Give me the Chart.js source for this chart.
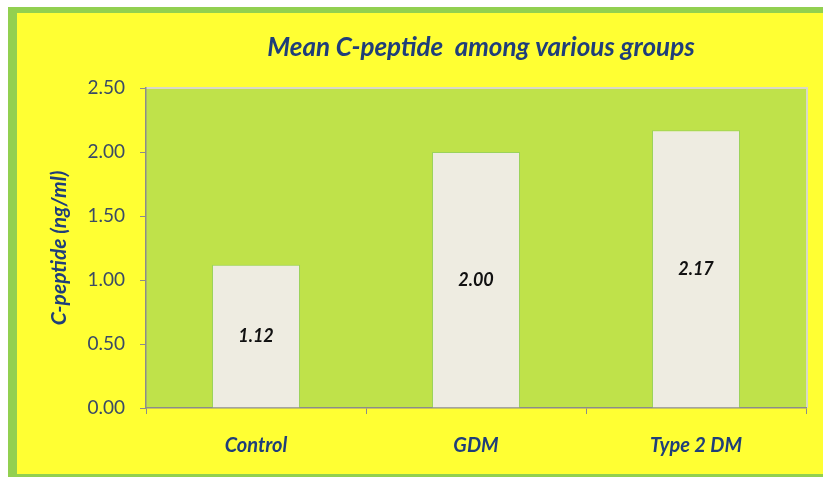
<!DOCTYPE html>
<html>
<head>
<meta charset="utf-8">
<script src="https://cdn.jsdelivr.net/npm/chart.js@4.4.0/dist/chart.umd.min.js"></script>
<style>
html,body{margin:0;padding:0;background:#ffffff;}
#wrap{width:823px;height:477px;position:relative;}
</style>
</head>
<body>
<div id="wrap"><canvas id="c" width="823" height="477"></canvas></div>
<script>
const categories = ["Control", "GDM", "Type 2 DM"];
const meanCPeptide = [1.12, 2.00, 2.17];
const valueLabels = ["1.12", "2.00", "2.17"];
const yTickLabels = ["0.00", "0.50", "1.00", "1.50", "2.00", "2.50"];
const chartTitle = "Mean C-peptide  among various groups";
const yAxisTitle = "C-peptide (ng/ml)";

const FONT = "Lato, 'Open Sans', 'DejaVu Sans', sans-serif";

const framePlugin = {
  id: 'frame',
  beforeDraw(chart) {
    const ctx = chart.ctx;
    const w = chart.width, h = chart.height;
    ctx.save();
    ctx.fillStyle = '#ffffff';
    ctx.fillRect(0, 0, w, h);
    ctx.fillStyle = '#92D050';
    ctx.fillRect(8, 7, w - 8, h - 7);
    ctx.fillStyle = '#FFFF33';
    ctx.fillRect(17, 13, w - 17, h - 13 - 3);
    const a = chart.chartArea;
    ctx.fillStyle = '#BFE24A';
    ctx.fillRect(a.left, a.top, a.right - a.left, a.bottom - a.top);
    ctx.strokeStyle = '#D9D9C6';
    ctx.lineWidth = 2;
    ctx.beginPath();
    ctx.moveTo(a.left, a.top);
    ctx.lineTo(a.right + 1, a.top);
    ctx.lineTo(a.right + 1, a.bottom);
    ctx.stroke();
    // chart title, centred over the plot area
    ctx.fillStyle = '#1F3E7A';
    ctx.font = "italic bold 26px " + FONT;
    ctx.textAlign = 'center';
    ctx.textBaseline = 'middle';
    ctx.fillText(chartTitle, (a.left + a.right) / 2 + 5, a.top - 40);
    ctx.restore();
  }
};

const labelPlugin = {
  id: 'barLabels',
  afterDatasetsDraw(chart) {
    const ctx = chart.ctx;
    const meta = chart.getDatasetMeta(0);
    ctx.save();
    ctx.fillStyle = '#111111';
    ctx.font = "italic bold 18px " + FONT;
    ctx.textAlign = 'center';
    ctx.textBaseline = 'middle';
    meta.data.forEach((bar, i) => {
      const y = (bar.y + bar.base) / 2;
      ctx.fillText(valueLabels[i], bar.x, y);
    });
    ctx.restore();
  }
};

new Chart(document.getElementById('c'), {
  type: 'bar',
  data: {
    labels: categories,
    datasets: [{
      data: meanCPeptide,
      backgroundColor: '#EEECE1',
      borderColor: '#9BD35A',
      borderWidth: 1,
      barPercentage: 0.4,
      categoryPercentage: 1.0
    }]
  },
  options: {
    responsive: false,
    animation: false,
    devicePixelRatio: 1,
    layout: { padding: { left: 0, right: 17, top: 88, bottom: 0 } },
    plugins: {
      legend: { display: false },
      tooltip: { enabled: false },
      title: { display: false }
    },
    scales: {
      x: {
        grid: { offset: true, drawOnChartArea: false, drawTicks: true, tickLength: 6, color: '#8C8C8C', tickColor: '#8C8C8C' },
        border: { display: true, color: '#8C8C8C', width: 1.5 },
        ticks: {
          color: '#1F3E7A',
          font: { family: FONT, size: 20, style: 'italic', weight: 'bold' },
          padding: 20
        },
        afterFit(scale) { scale.height = 477 - 408; }
      },
      y: {
        min: 0, max: 2.5,
        grid: { drawOnChartArea: false, drawTicks: true, tickLength: 6, color: '#8C8C8C', tickColor: '#8C8C8C' },
        border: { display: true, color: '#8C8C8C', width: 1.5 },
        ticks: {
          stepSize: 0.5,
          color: '#3A4A66',
          font: { family: FONT, size: 19 },
          padding: 15,
          callback: (v, i) => yTickLabels[i]
        },
        title: {
          display: true,
          text: yAxisTitle,
          color: '#1F3E7A',
          font: { family: FONT, size: 21, style: 'italic', weight: 'bold' },
          padding: { top: 47, bottom: 0 }
        },
        afterFit(scale) { scale.width = 146; }
      }
    }
  },
  plugins: [framePlugin, labelPlugin]
});
</script>
</body>
</html>
